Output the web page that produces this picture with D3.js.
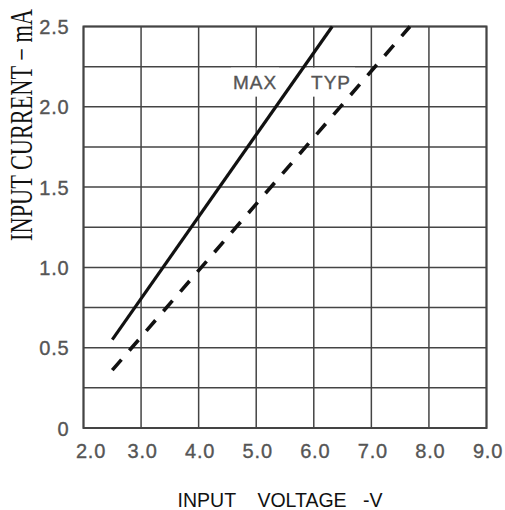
<!DOCTYPE html>
<html>
<head>
<meta charset="utf-8">
<script src="https://cdn.jsdelivr.net/npm/d3@7"></script>
<style>
  body { margin: 0; background: #fff; }
  svg { display: block; }
  .tick-label { font-family: "Liberation Sans", Arial, sans-serif; font-size: 20px; fill: #555; stroke: #555; stroke-width: 0.35px; letter-spacing: 0.8px; }
  .grid line { stroke: #444; stroke-width: 1.5; }
</style>
</head>
<body>
<div id="graph"></div>
<script>
// tick values
var xTicks = [2, 3, 4, 5, 6, 7, 8, 9]
var yTicks = [0, 0.5, 1.0, 1.5, 2.0, 2.5]
var yGrid = [0, 0.25, 0.5, 0.75, 1.0, 1.25, 1.5, 1.75, 2.0, 2.25, 2.5]

// curves (input voltage V, input current mA)
var maxVoltage = [2.5, 6.32]
var maxCurrent = [0.55, 2.5]
var typVoltage = [2.5, 7.67]
var typCurrent = [0.36, 2.5]

// curve labels
var labelText = ['MAX', 'TYP']
var labelVoltage = [4.98, 6.3]
var labelCurrent = [2.11, 2.11]

var W = 505, H = 510
var margin = {left: 83.5, right: 18.5, top: 26.5, bottom: 82}

var svg = d3.select('#graph').append('svg')
  .attr('width', W).attr('height', H)

var x = d3.scaleLinear().domain([2, 9]).range([margin.left, W - margin.right])
var y = d3.scaleLinear().domain([0, 2.5]).range([H - margin.bottom, margin.top])

// grid
var grid = svg.append('g').attr('class', 'grid')
grid.selectAll('line.v').data(xTicks).enter().append('line')
  .attr('x1', d => x(d)).attr('x2', d => x(d))
  .attr('y1', y(0)).attr('y2', y(2.5))
grid.selectAll('line.h').data(yGrid).enter().append('line')
  .attr('y1', d => y(d)).attr('y2', d => y(d))
  .attr('x1', x(2)).attr('x2', x(9))
svg.append('rect')
  .attr('x', x(2)).attr('y', y(2.5))
  .attr('width', x(9) - x(2)).attr('height', y(0) - y(2.5))
  .attr('fill', 'none').attr('stroke', '#444').attr('stroke-width', 2)

// axes (labels only)
var xAxis = d3.axisBottom(x).tickValues(xTicks).tickSize(0).tickFormat(d3.format('.1f'))
var gx = svg.append('g').attr('transform', 'translate(0,' + (y(0) + 13) + ')').call(xAxis)
gx.select('.domain').remove()
gx.selectAll('text').attr('class', 'tick-label').attr('dy', '0.71em')
  .attr('dx', (d, i) => i == 0 ? 7 : 1)

var yAxis = d3.axisLeft(y).tickValues(yTicks).tickSize(0)
  .tickFormat(d => d == 0 ? '0' : d3.format('.1f')(d))
var gy = svg.append('g').attr('transform', 'translate(' + (x(2) - 11) + ',0)').call(yAxis)
gy.select('.domain').remove()
gy.selectAll('text').attr('class', 'tick-label').attr('dy', '0.35em')

// curve labels with white boxes
var labels = labelText.map((t, i) => ({t: t, v: labelVoltage[i], c: labelCurrent[i]}))
svg.selectAll('rect.lab').data(labels).enter().append('rect')
  .attr('x', d => x(d.v) - 24).attr('y', y(2.25) + 1)
  .attr('width', 48).attr('height', 29)
  .attr('fill', '#fff')
svg.selectAll('text.lab').data(labels).enter().append('text')
  .attr('class', 'tick-label')
  .attr('x', d => x(d.v)).attr('y', d => y(d.c))
  .attr('text-anchor', 'middle')
  .style('font-size', '19px')
  .style('letter-spacing', '1px')
  .text(d => d.t)

// curves
var line = d3.line().x(d => x(d[0])).y(d => y(d[1]))
svg.append('path')
  .attr('d', line(d3.zip(maxVoltage, maxCurrent)))
  .attr('fill', 'none').attr('stroke', '#111').attr('stroke-width', 3.2)
svg.append('path')
  .attr('d', line(d3.zip(typVoltage, typCurrent)))
  .attr('fill', 'none').attr('stroke', '#111').attr('stroke-width', 3.6)
  .attr('stroke-dasharray', '14,12')

// axis titles
svg.append('text')
  .attr('transform', 'translate(32,' + 125 + ') rotate(-90) scale(0.72,1)')
  .attr('text-anchor', 'middle')
  .style('font-family', '"Liberation Serif", "Times New Roman", serif')
  .style('font-size', '31px')
  .attr('fill', '#111')
  .text('INPUT CURRENT \u2212 mA')

svg.append('text')
  .attr('x', 280).attr('y', 506.5)
  .attr('text-anchor', 'middle')
  .style('font-family', '"Liberation Sans", Arial, sans-serif')
  .style('font-size', '19.5px')
  .style('white-space', 'pre')
  .attr('fill', '#111')
  .text('INPUT    VOLTAGE   -V')
</script>
</body>
</html>
